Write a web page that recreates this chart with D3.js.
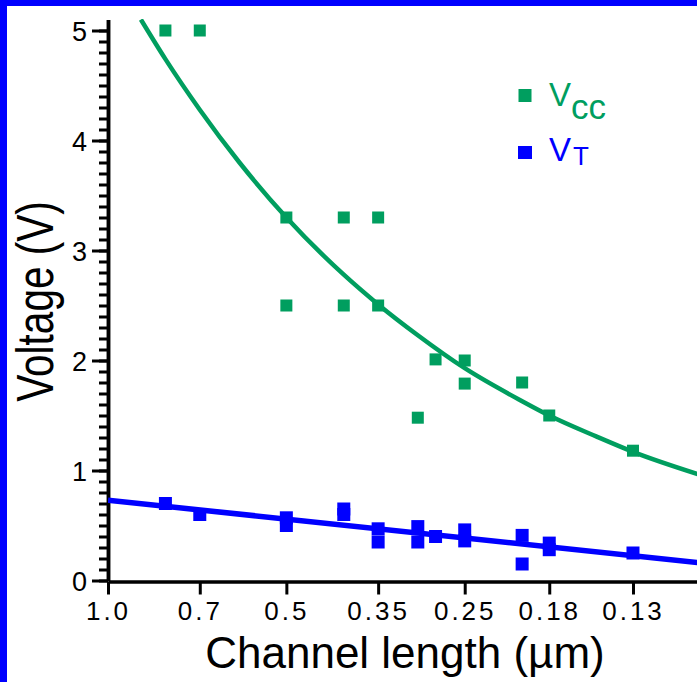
<!DOCTYPE html>
<html><head><meta charset="utf-8">
<script src="https://cdn.jsdelivr.net/npm/d3@7"></script>
<style>html,body{margin:0;padding:0;background:#fff;}svg{display:block;font-family:"Liberation Sans",Arial,sans-serif;}</style>
</head><body>
<div id="chart"></div>
<script>
// ---- data ----
const xTicks = [1.0, 0.7, 0.5, 0.35, 0.25, 0.18, 0.13];
const xTickLabels = ["1.0", "0.7", "0.5", "0.35", "0.25", "0.18", "0.13"];
const yTicks = [0, 1, 2, 3, 4, 5];

// Vcc (supply voltage) measured points
const vccL = [0.8, 0.7, 0.5, 0.5, 0.4, 0.4, 0.35, 0.35, 0.3, 0.28, 0.25, 0.25, 0.2, 0.18, 0.13];
const vccV = [5.0, 5.0, 3.3, 2.5, 3.3, 2.5, 3.3, 2.5, 1.48, 2.01, 2.0, 1.79, 1.8, 1.5, 1.18];
// Vcc trend curve
const vccFitL = [0.88, 0.8, 0.7, 0.6, 0.5, 0.4, 0.35, 0.3, 0.25, 0.2, 0.18, 0.15, 0.13, 0.1];
const vccFitV = [5.10, 4.74, 4.28, 3.80, 3.30, 2.78, 2.51, 2.23, 1.93, 1.63, 1.50, 1.31, 1.17, 0.96];

// VT (threshold voltage) measured points
const vtL = [0.8, 0.7, 0.5, 0.5, 0.4, 0.4, 0.35, 0.35, 0.3, 0.3, 0.28, 0.25, 0.25, 0.2, 0.2, 0.18, 0.18, 0.13];
const vtV = [0.70, 0.60, 0.57, 0.50, 0.65, 0.60, 0.47, 0.35, 0.49, 0.35, 0.40, 0.46, 0.36, 0.41, 0.15, 0.34, 0.28, 0.25];
// VT trend line
const vtFitL = [1.0, 0.1];
const vtFitV = [0.73, 0.16];

const legendLabels = [{main: "V", sub: "cc"}, {main: "V", sub: "T"}];

// ---- drawing ----
const W = 697, H = 682;
const GREEN = "#009e5f", BLUE = "#0000ff";
const svg = d3.select("#chart").append("svg").attr("width", W).attr("height", H);

svg.append("rect").attr("x", 0).attr("y", 0).attr("width", W).attr("height", H).attr("fill", "#fff");
// blue frame (top & left edges visible)
svg.append("rect").attr("x", 0).attr("y", 0).attr("width", W).attr("height", 6).attr("fill", BLUE);
svg.append("rect").attr("x", 0).attr("y", 0).attr("width", 7).attr("height", H).attr("fill", BLUE);

const x = d3.scaleLog().domain([1.0, 0.1]).range([108, 700.5]);
const y = d3.scaleLinear().domain([0, 5.1]).range([580.5, 19.5]);

svg.append("clipPath").attr("id", "plotclip").append("rect")
  .attr("x", 108).attr("y", 19).attr("width", 600).attr("height", 563);

// Y axis minor ticks
const yMinor = svg.append("g").attr("transform", "translate(108,0)")
  .call(d3.axisLeft(y).tickValues(d3.range(0, 51).map(i => i / 10)).tickSize(9).tickSizeOuter(0).tickFormat(""));
// Y axis major ticks
const yMajor = svg.append("g").attr("transform", "translate(108,0)")
  .call(d3.axisLeft(y).tickValues(yTicks).tickSize(16).tickSizeOuter(0).tickPadding(5).tickFormat(d3.format("d")));
[yMinor, yMajor].forEach(g => {
  g.select(".domain").attr("stroke", "#000").attr("stroke-width", 3.5);
  g.selectAll(".tick line").attr("stroke", "#000").attr("stroke-width", 3);
});
yMajor.selectAll(".tick text").attr("font-size", 27).attr("font-family", "Liberation Sans, Arial, sans-serif")
  .attr("fill", "#000").attr("dy", "0.36em");

// X axis
const xAxis = svg.append("g").attr("transform", "translate(0,581.5)")
  .call(d3.axisBottom(x).tickValues(xTicks).tickSize(13).tickSizeOuter(0)
    .tickFormat((d, i) => xTickLabels[i]));
xAxis.select(".domain").attr("stroke", "#000").attr("stroke-width", 3.5);
xAxis.selectAll(".tick line").attr("stroke", "#000").attr("stroke-width", 3);
xAxis.selectAll(".tick text").attr("font-size", 26).attr("font-family", "Liberation Sans, Arial, sans-serif")
  .attr("fill", "#000").attr("y", 38.5).attr("dy", 0).attr("letter-spacing", 3);

// Fitted curves
const vccFit = vccFitL.map((l, i) => [l, vccFitV[i]]);
const vtFit = vtFitL.map((l, i) => [l, vtFitV[i]]);
const line = d3.line().x(d => x(d[0])).y(d => y(d[1])).curve(d3.curveMonotoneX);
const plot = svg.append("g").attr("clip-path", "url(#plotclip)");
plot.append("path").datum(vccFit).attr("d", line).attr("fill", "none").attr("stroke", GREEN).attr("stroke-width", 4.5);
plot.append("path").datum(vtFit).attr("d", line).attr("fill", "none").attr("stroke", BLUE).attr("stroke-width", 5.5);

// Points
const vcc = vccL.map((l, i) => [l, vccV[i]]);
const vt = vtL.map((l, i) => [l, vtV[i]]);
const gs = 12, bs = 13;
svg.append("g").selectAll("rect").data(vcc).join("rect")
  .attr("x", d => x(d[0]) - gs / 2).attr("y", d => y(d[1]) - gs / 2)
  .attr("width", gs).attr("height", gs).attr("fill", GREEN);
svg.append("g").selectAll("rect").data(vt).join("rect")
  .attr("x", d => x(d[0]) - bs / 2).attr("y", d => y(d[1]) - bs / 2)
  .attr("width", bs).attr("height", bs).attr("fill", BLUE);

// Axis titles
svg.append("text").attr("x", 405).attr("y", 668).attr("text-anchor", "middle")
  .attr("font-size", 44).attr("fill", "#000").text("Channel length (µm)");
svg.append("text").attr("transform", "translate(53,301.5) rotate(-90) scale(0.78,1)")
  .attr("text-anchor", "middle").attr("font-size", 52).attr("fill", "#000").text("Voltage (V)");

// Legend
const lg = svg.append("g");
lg.append("rect").attr("x", 518.5).attr("y", 89).attr("width", 13).attr("height", 13).attr("fill", GREEN);
const t1 = lg.append("text").attr("x", 549).attr("y", 106).attr("font-size", 33).attr("fill", GREEN);
t1.append("tspan").text(legendLabels[0].main);
t1.append("tspan").attr("dy", 13).attr("font-size", 35).text(legendLabels[0].sub);
lg.append("rect").attr("x", 518).attr("y", 146).attr("width", 14).attr("height", 13).attr("fill", BLUE);
const t2 = lg.append("text").attr("x", 549).attr("y", 161).attr("font-size", 33).attr("fill", BLUE);
t2.append("tspan").text(legendLabels[1].main);
t2.append("tspan").attr("dy", 4).attr("dx", 2).attr("font-size", 26).text(legendLabels[1].sub);
</script>
</body></html>
